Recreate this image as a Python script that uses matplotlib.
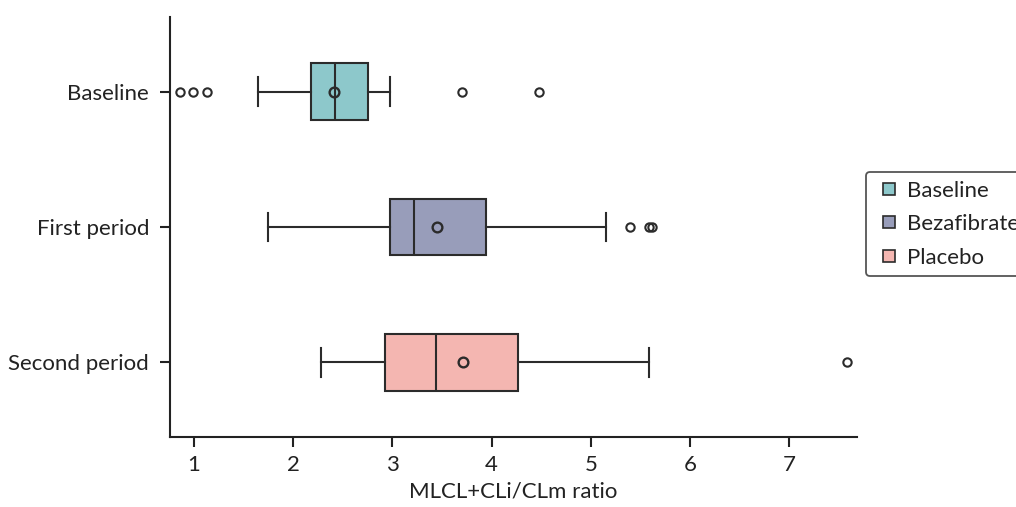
import matplotlib
matplotlib.use("Agg")
import matplotlib.pyplot as plt
from matplotlib.lines import Line2D

plt.rcParams['font.family'] = ['Lato', 'DejaVu Sans']

categories = ["Baseline", "First period", "Second period"]
groups = ["Baseline", "Bezafibrate", "Placebo"]
colors = ["#8DC8CB", "#989DBA", "#F4B6B1"]

whislo = [1.65, 1.75, 2.28]
q1 = [2.18, 2.98, 2.93]
med = [2.42, 3.22, 3.44]
q3 = [2.75, 3.94, 4.27]
whishi = [2.98, 5.15, 5.58]
means = [2.41, 3.45, 3.71]
fliers = [[0.86, 0.99, 1.13, 3.70, 4.48], [5.39, 5.58, 5.62], [7.58]]

stats = []
for i, c in enumerate(categories):
    stats.append(dict(label=c, whislo=whislo[i], q1=q1[i], med=med[i], q3=q3[i],
                      whishi=whishi[i], mean=means[i], fliers=fliers[i]))

fig = plt.figure(figsize=(10.16, 5.07), dpi=100)
ax = fig.add_axes([170/1016, 1-437/507, (857-170)/1016, (437-17)/507])

edge = "#2b2b2b"
lw = 1.5
fs = 16
positions = list(range(len(categories)))
bp = ax.bxp(stats, positions=positions, vert=False, widths=0.42, patch_artist=True,
            showmeans=True, showfliers=True,
            boxprops=dict(edgecolor=edge, linewidth=lw),
            medianprops=dict(color=edge, linewidth=lw),
            whiskerprops=dict(color=edge, linewidth=lw),
            capprops=dict(color=edge, linewidth=lw),
            meanprops=dict(marker='o', markerfacecolor='none', markeredgecolor=edge,
                           markersize=7, markeredgewidth=1.7),
            flierprops=dict(marker='o', markerfacecolor='none', markeredgecolor=edge,
                            markersize=6, markeredgewidth=1.5),
            capwidths=0.21)
for patch, col in zip(bp['boxes'], colors):
    patch.set_facecolor(col)

ax.set_ylim(2.55, -0.55)
ax.set_xlim(0.76, 7.68)
ax.set_yticks(positions)
ax.set_yticklabels(categories)
ax.set_xticks([1, 2, 3, 4, 5, 6, 7])
ax.set_xlabel("MLCL+CLi/CLm ratio", fontsize=fs, color="#222222", labelpad=5)
ax.tick_params(axis='both', labelsize=fs, colors="#222222", width=1.5, length=7, direction='out')
ax.tick_params(axis='y', pad=8)
ax.tick_params(axis='x', pad=6)
for s in ['top', 'right']:
    ax.spines[s].set_visible(False)
for s in ['left', 'bottom']:
    ax.spines[s].set_linewidth(1.5)
    ax.spines[s].set_color("#222222")

handles = [Line2D([0], [0], marker='s', linestyle='none', markerfacecolor=c,
                  markeredgecolor=edge, markeredgewidth=1.2, markersize=9) for c in colors]
leg = fig.legend(handles, groups, loc='upper left', bbox_to_anchor=(866/1016, 1-172/507),
                 fontsize=fs, frameon=True, fancybox=True, edgecolor=edge,
                 handlelength=1.3, handletextpad=0.15, borderpad=0.4, labelspacing=0.6,
                 borderaxespad=0)
leg.get_frame().set_linewidth(1.3)
for t in leg.get_texts():
    t.set_color("#222222")

fig.savefig("out.png", dpi=100)
